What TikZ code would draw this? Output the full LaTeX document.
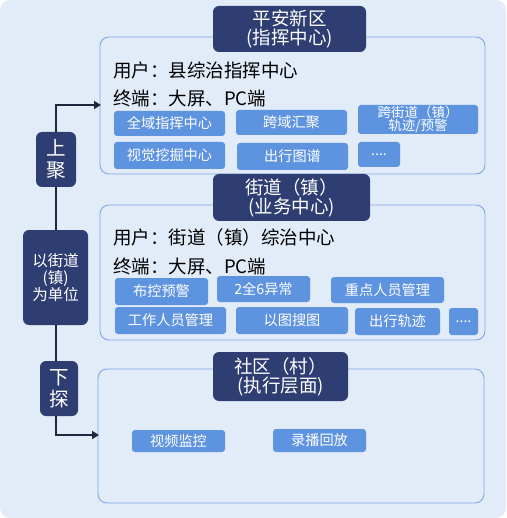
\documentclass[tikz,border=0pt]{standalone}
\usepackage{fontspec}
\setmainfont{Noto Sans CJK SC}
\usetikzlibrary{arrows.meta}
\definecolor{bgc}{HTML}{E2EBF8}
\definecolor{panelb}{HTML}{7FA7E3}
\definecolor{navy}{HTML}{2F3E72}
\definecolor{btn}{HTML}{5E93E0}
\definecolor{linec}{HTML}{1E2740}
\tikzset{
  panel/.style={draw=panelb, line width=0.9pt, rounded corners=9pt, fill=bgc},
  ttl/.style={fill=navy, rounded corners=6pt, text=white, align=center, font=\fontsize{18.5}{19}\selectfont, inner sep=0pt},
  btnbox/.style={fill=btn, rounded corners=3pt, text=white, align=center, font=\fontsize{14.2}{14}\selectfont, inner sep=0pt},
  info/.style={anchor=west, font=\fontsize{18.5}{19}\selectfont, inner sep=0pt},
  side/.style={fill=navy, rounded corners=6pt, text=white, align=center, inner sep=0pt},
  conn/.style={draw=linec, line width=2.6pt},
}
\begin{document}
\begin{tikzpicture}[x=1pt,y=-1pt]
\useasboundingbox (0,0) rectangle (506,518);
\fill[bgc, rounded corners=10pt] (0,0) rectangle (506,518);
% panels
\draw[panel] (100,37) rectangle (485,174);
\draw[panel] (100,205) rectangle (485,340);
\draw[panel] (98,369) rectangle (484,503);
% titles
\node[ttl, minimum width=153pt, minimum height=46pt] (t1) at (289.5,29) {平安新区\\(指挥中心)};
\node[ttl, minimum width=157pt, minimum height=47pt] (t2) at (291.5,197.5) {街道（镇）\\(业务中心)};
\node[ttl, minimum width=135pt, minimum height=49pt] (t3) at (280.5,376.5) {社区（村）\\(执行层面)};
% info lines
\node[info] (u1) at (113,70) {用户：县综治指挥中心};
\node[info] (d1) at (113,98) {终端：大屏、PC端};
\node[info] (u2) at (113,237) {用户：街道（镇）综治中心};
\node[info] (d2) at (113,266) {终端：大屏、PC端};
% panel 1 buttons
\node[btnbox, minimum width=111pt, minimum height=25pt] (a1) at (169.5,123.5) {全域指挥中心};
\node[btnbox, minimum width=111pt, minimum height=25pt] (a2) at (291.5,122.5) {跨域汇聚};
\node[btnbox, minimum width=120pt, minimum height=29pt, font=\fontsize{13.5}{13}\selectfont] (a3) at (418,119.5) {跨街道（镇）\\轨迹/预警};
\node[btnbox, minimum width=111pt, minimum height=27pt] (a4) at (169.5,155.5) {视觉挖掘中心};
\node[btnbox, minimum width=111pt, minimum height=27pt] (a5) at (292.5,156.5) {出行图谱};
\node[btnbox, minimum width=42pt, minimum height=25pt] (a6) at (379,154.5) {....};
% panel 2 buttons
\node[btnbox, minimum width=93pt, minimum height=27pt] (b1) at (161.5,291.5) {布控预警};
\node[btnbox, minimum width=93pt, minimum height=26pt] (b2) at (263.5,289) {2全6异常};
\node[btnbox, minimum width=113pt, minimum height=26pt] (b3) at (387.5,290) {重点人员管理};
\node[btnbox, minimum width=111pt, minimum height=27pt] (b4) at (170.5,320.5) {工作人员管理};
\node[btnbox, minimum width=112pt, minimum height=27pt] (b5) at (292,320.5) {以图搜图};
\node[btnbox, minimum width=85pt, minimum height=27pt] (b6) at (397.5,321.5) {出行轨迹};
\node[btnbox, minimum width=29pt, minimum height=27pt] (b7) at (463.5,321.5) {....};
% panel 3 buttons
\node[btnbox, minimum width=93pt, minimum height=22pt] (c1) at (178.5,441) {视频监控};
\node[btnbox, minimum width=93pt, minimum height=23pt] (c2) at (319.5,440.5) {录播回放};
% connectors
\coordinate (top) at (56,105);
\coordinate (topend) at (101,105);
\coordinate (bot) at (56,435);
\coordinate (botend) at (99,435);
\draw[conn, {Triangle[length=7pt,width=8pt]}-{Triangle[length=7pt,width=8pt]}] (topend) -- (top) -- (bot) -- (botend);
% side boxes
\node[side, minimum width=40pt, minimum height=55pt, font=\fontsize{19.5}{22}\selectfont] (s1) at (56,159.5) {上\\聚};
\node[side, minimum width=65pt, minimum height=95pt, font=\fontsize{15.5}{17}\selectfont] (s2) at (55.5,277.5) {以街道\\(镇)\\为单位};
\node[side, minimum width=38pt, minimum height=55pt, font=\fontsize{19.5}{22}\selectfont] (s3) at (59,388.5) {下\\探};
\end{tikzpicture}
\end{document}
